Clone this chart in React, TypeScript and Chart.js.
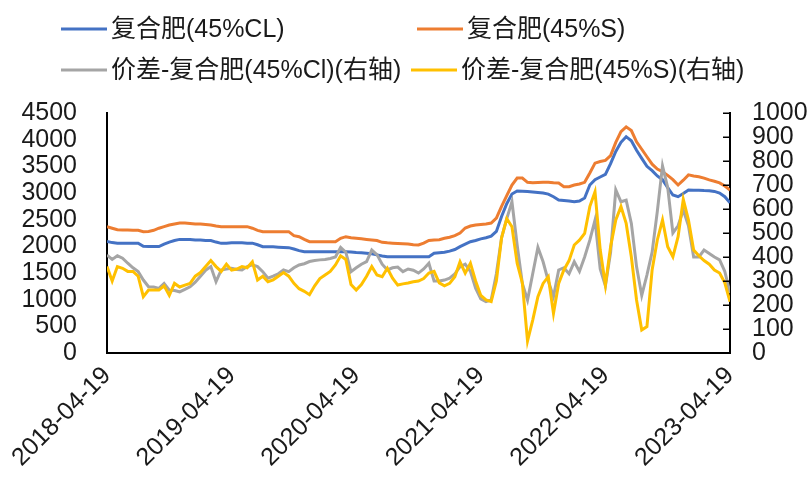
import { useEffect, useRef } from 'react';
import { Chart, registerables } from 'chart.js';

Chart.register(...registerables);

// ---- data -------------------------------------------------------------
// x tick labels (one per year), points are half-monthly (24 per year)
const xTickLabels = ['2018-04-19', '2019-04-19', '2020-04-19', '2021-04-19', '2022-04-19', '2023-04-19'];
const pointsPerYear = 24;

const leftTicks = [0, 500, 1000, 1500, 2000, 2500, 3000, 3500, 4000, 4500];
const rightTicks = [0, 100, 200, 300, 400, 500, 600, 700, 800, 900, 1000];

const seriesNames = ['复合肥(45%CL)', '复合肥(45%S)', '价差-复合肥(45%Cl)(右轴)', '价差-复合肥(45%S)(右轴)'];
const seriesColors = ['#4472C4', '#ED7D31', '#A5A5A5', '#FFC000'];

// 复合肥(45%CL) – left axis
const priceCl = [
  2090, 2070, 2060, 2060, 2060, 2060, 2060, 2000, 1995, 1995,
  1995, 2040, 2080, 2110, 2130, 2130, 2130, 2120, 2120, 2110,
  2110, 2080, 2056, 2060, 2068, 2068, 2068, 2060, 2060, 2030,
  1994, 1994, 1990, 1985, 1980, 1975, 1950, 1920, 1900, 1900,
  1900, 1900, 1900, 1900, 1900, 1900, 1900, 1895, 1885, 1880,
  1870, 1860, 1840, 1820, 1806, 1806, 1806, 1806, 1806, 1806,
  1806, 1806, 1806, 1870, 1880, 1890, 1910, 1940, 1994, 2040,
  2087, 2110, 2140, 2160, 2190, 2280, 2560, 2800, 2980, 3037,
  3035, 3030, 3020, 3010, 3000, 2980, 2930, 2870, 2860, 2850,
  2837, 2850, 2906, 3150, 3250, 3300, 3350, 3550, 3780, 3950,
  4056, 3980, 3800, 3650, 3500, 3420, 3320, 3250, 3100, 2962,
  2931, 2990, 3056, 3050, 3050, 3045, 3043, 3030, 3000, 2930, 2818,
];

// 复合肥(45%S) – left axis
const priceS = [
  2369, 2340, 2310, 2306, 2306, 2300, 2300, 2275, 2280, 2300,
  2340, 2370, 2400, 2420, 2437, 2437, 2430, 2420, 2420, 2410,
  2400, 2380, 2369, 2369, 2369, 2369, 2369, 2369, 2340, 2300,
  2275, 2275, 2275, 2275, 2275, 2275, 2200, 2180, 2130, 2087,
  2087, 2087, 2087, 2087, 2087, 2150, 2181, 2160, 2150, 2140,
  2130, 2120, 2110, 2075, 2065, 2060, 2055, 2050, 2044, 2030,
  2025, 2060, 2110, 2119, 2125, 2150, 2170, 2200, 2250, 2344,
  2380, 2400, 2410, 2420, 2437, 2530, 2750, 2950, 3150, 3280,
  3280, 3200, 3190, 3195, 3200, 3200, 3190, 3187, 3118, 3118,
  3150, 3170, 3200, 3375, 3560, 3590, 3610, 3700, 3950, 4150,
  4240, 4170, 3960, 3820, 3680, 3540, 3450, 3400, 3330, 3250,
  3150, 3240, 3340, 3320, 3306, 3280, 3245, 3220, 3190, 3130, 3056,
];

// 价差-复合肥(45%Cl) – right axis
const spreadCl = [
  408, 390, 405, 395, 374, 355, 339, 304, 276, 275,
  269, 290, 262, 260, 255, 265, 276, 295, 320, 345,
  360, 297, 346, 350, 353, 348, 346, 360, 367, 360,
  339, 312, 320, 330, 346, 339, 355, 367, 372, 381,
  385, 388, 390, 394, 400, 440, 420, 339, 355, 370,
  381, 429, 410, 370, 346, 355, 358, 339, 350, 345,
  333, 350, 374, 300, 300, 304, 312, 330, 360, 370,
  340, 270, 225, 214, 221, 330, 480, 560, 630, 450,
  290, 220, 330, 440, 380, 300, 235, 346, 355, 330,
  380, 340, 400, 470, 554, 350, 280, 420, 680, 630,
  637, 540, 360, 240, 325, 420, 590, 780, 690, 500,
  530, 596, 530, 400, 400, 429, 415, 400, 388, 340, 250,
];

// 价差-复合肥(45%S) – right axis
const spreadS = [
  360, 300, 360, 353, 340, 340, 320, 235, 262, 262,
  262, 280, 240, 290, 275, 283, 290, 320, 335, 360,
  385, 360, 340, 370, 345, 350, 360, 355, 380, 304,
  320, 297, 305, 320, 335, 320, 290, 268, 257, 243,
  280, 310, 325, 340, 367, 405, 390, 285, 262, 285,
  320, 360, 325, 318, 353, 312, 283, 288, 292, 297,
  300, 310, 333, 340, 292, 280, 290, 318, 380, 333,
  374, 300, 240, 221, 214, 300, 480, 560, 526, 374,
  292, 50, 137, 235, 290, 318, 165, 290, 346, 385,
  450, 470, 498, 610, 672, 430, 283, 443, 554, 610,
  540, 400, 221, 96, 110, 346, 471, 554, 443, 401,
  485, 640, 554, 429, 405, 385, 370, 346, 333, 292, 214,
];

const seriesValues = [priceCl, priceS, spreadCl, spreadS];
const seriesAxis = ['y', 'y', 'y1', 'y1'];
const seriesOrder = [3, 2, 1, 0];

// ---- styling ----------------------------------------------------------
const FONT = '"Liberation Sans", Arial, "Noto Sans CJK SC", sans-serif';
const TEXT = '#1a1a1a';

const legendLayout = [
  { x: 61, y: 29 },
  { x: 417, y: 29 },
  { x: 61, y: 70 },
  { x: 411, y: 70 },
];

const legendPlugin = {
  id: 'twoColumnLegend',
  afterDraw(chart: any) {
    const ctx = chart.ctx as CanvasRenderingContext2D;
    ctx.save();
    // inward tick marks on the right axis
    const ys = chart.scales.y1;
    const right = chart.chartArea.right;
    ctx.strokeStyle = '#000';
    ctx.lineWidth = 1.5;
    rightTicks.forEach((v) => {
      const py = Math.round(ys.getPixelForValue(v)) + 0.25;
      ctx.beginPath();
      ctx.moveTo(right - 7, py);
      ctx.lineTo(right, py);
      ctx.stroke();
    });
    // two-column legend
    ctx.font = `25px ${FONT}`;
    ctx.textBaseline = 'middle';
    ctx.textAlign = 'left';
    seriesNames.forEach((name, i) => {
      const p = legendLayout[i];
      ctx.strokeStyle = seriesColors[i];
      ctx.lineWidth = 3;
      ctx.beginPath();
      ctx.moveTo(p.x, p.y);
      ctx.lineTo(p.x + 46, p.y);
      ctx.stroke();
      ctx.fillStyle = TEXT;
      ctx.fillText(name, p.x + 50, p.y + 1);
    });
    ctx.restore();
  },
};

export default function App() {
  const canvasRef = useRef<HTMLCanvasElement | null>(null);

  useEffect(() => {
    const canvas = canvasRef.current;
    if (!canvas) return;

    const datasets = seriesNames.map((name, k) => ({
      label: name,
      data: seriesValues[k].map((v, i) => ({ x: i, y: v })),
      yAxisID: seriesAxis[k],
      borderColor: seriesColors[k],
      backgroundColor: seriesColors[k],
      borderWidth: 3,
      pointRadius: 0,
      tension: 0,
      fill: false,
      order: seriesOrder[k],
    }));

    const chart = new Chart(canvas, {
      type: 'line',
      data: { datasets },
      plugins: [legendPlugin],
      options: {
        animation: false,
        responsive: false,
        devicePixelRatio: 1,
        layout: { padding: { top: 113, left: 0, right: 0, bottom: 0 } },
        plugins: { legend: { display: false }, tooltip: { enabled: false } },
        scales: {
          x: {
            type: 'linear',
            min: 0,
            max: (xTickLabels.length - 1) * pointsPerYear,
            afterBuildTicks: (s: any) => {
              s.ticks = xTickLabels.map((_, k) => ({ value: k * pointsPerYear }));
            },
            afterFit: (s: any) => {
              s.height = 125;
            },
            ticks: {
              autoSkip: false,
              minRotation: 45,
              maxRotation: 45,
              padding: 8,
              color: TEXT,
              font: { size: 25, family: FONT },
              callback: (v: any) => xTickLabels[Math.round(Number(v) / pointsPerYear)],
            },
            grid: { display: false, drawTicks: false },
            border: { display: true, color: '#000', width: 2 },
          },
          y: {
            type: 'linear',
            position: 'left',
            min: 0,
            max: 4500,
            afterBuildTicks: (s: any) => {
              s.ticks = leftTicks.map((v) => ({ value: v }));
            },
            afterFit: (s: any) => {
              s.width = 107;
            },
            ticks: {
              autoSkip: false,
              padding: 30,
              color: TEXT,
              font: { size: 25, family: FONT },
              callback: (v: any) => String(v),
            },
            grid: { display: false, drawTicks: false },
            border: { display: true, color: '#000', width: 2 },
          },
          y1: {
            type: 'linear',
            position: 'right',
            min: 0,
            max: 1000,
            afterBuildTicks: (s: any) => {
              s.ticks = rightTicks.map((v) => ({ value: v }));
            },
            afterFit: (s: any) => {
              s.width = 79;
            },
            ticks: {
              autoSkip: false,
              padding: 22,
              color: TEXT,
              font: { size: 25, family: FONT },
              callback: (v: any) => String(v),
            },
            grid: { display: false, drawTicks: false },
            border: { display: true, color: '#000', width: 2 },
          },
        },
      },
    } as any);

    return () => chart.destroy();
  }, []);

  return (
    <div style={{ position: 'fixed', left: 0, top: 0, width: 809, height: 478, background: '#fff' }}>
      <canvas ref={canvasRef} width={809} height={478} />
    </div>
  );
}
